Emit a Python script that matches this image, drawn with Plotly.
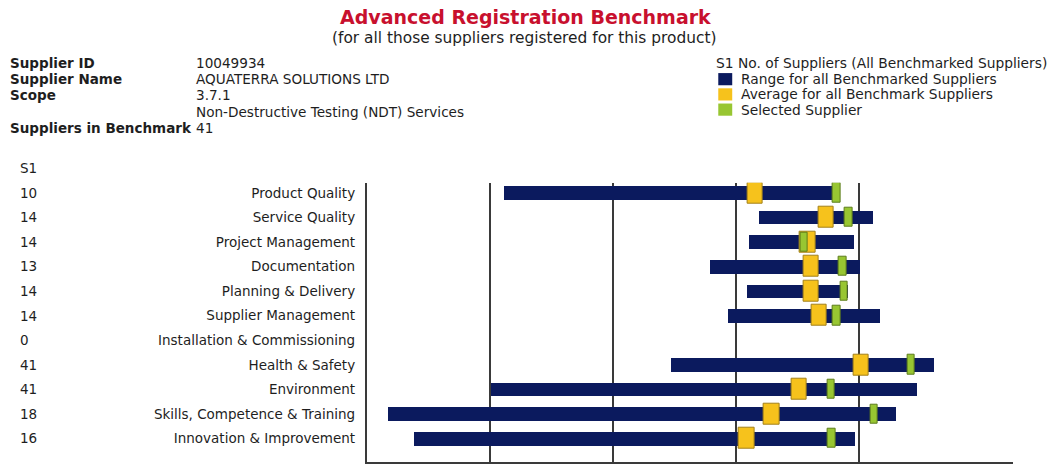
import plotly.graph_objects as go

# ---------------- data ----------------
categories = ["Product Quality", "Service Quality", "Project Management", "Documentation",
              "Planning & Delivery", "Supplier Management", "Installation & Commissioning",
              "Health & Safety", "Environment", "Skills, Competence & Training",
              "Innovation & Improvement"]
supplier_counts = [10, 14, 14, 13, 14, 14, 0, 41, 41, 18, 16]
range_min = [2.23, 6.37, 6.21, 5.57, 6.17, 5.87, None, 4.94, 2.01, 0.34, 0.76]
range_max = [7.64, 8.21, 7.91, 8.01, 7.81, 8.33, None, 9.21, 8.93, 8.59, 7.92]
average = [6.31, 7.46, 7.16, 7.22, 7.22, 7.35, None, 8.03, 7.02, 6.58, 6.17]
selected = [7.63, 7.83, 7.11, 7.73, 7.75, 7.63, None, 8.84, 7.54, 8.24, 7.55]
x_ticks = [0, 2, 4, 6, 8]

title_text = "Advanced Registration Benchmark"
subtitle_text = "(for all those suppliers registered for this product)"
header_labels = ["Supplier ID", "Supplier Name", "Scope", "", "Suppliers in Benchmark"]
header_values = ["10049934", "AQUATERRA SOLUTIONS LTD", "3.7.1",
                 "Non-Destructive Testing (NDT) Services", "41"]
legend_title = "S1 No. of Suppliers (All Benchmarked Suppliers)"
legend_labels = ["Range for all Benchmarked Suppliers",
                 "Average for all Benchmark Suppliers",
                 "Selected Supplier"]
count_header = "S1"

# ---------------- style ----------------
W = 1052
REF_H = 466          # layout positions below are given in picture pixels
H = 478              # figure height (the page is shown squeezed to 466 rows)
FONT = "DejaVu Sans"
NAVY = "#0b1a5e"
YELLOW = "#f6c21c"
YELLOW_EDGE = "#a3801a"
GREEN = "#98c632"
GREEN_EDGE = "#5d7d1c"
LINE = "#3a3a3a"
TEXT = "#1e1e1e"
AVG_W = 0.25   # x units
SEL_W = 0.12


def px_x(p):
    return p / W


def px_y(p):
    return 1 - p / REF_H


def half(vals, w):
    return [None if v is None else v - w / 2 for v in vals]


def spans(lo, hi):
    return [None if a is None else b - a for a, b in zip(lo, hi)]


fig = go.Figure()

fig.add_trace(go.Bar(
    y=categories, x=spans(range_min, range_max), base=range_min, orientation="h",
    width=0.55, marker=dict(color=NAVY, line=dict(width=0)),
    name=legend_labels[0], showlegend=False))

fig.add_trace(go.Bar(
    y=categories, x=[None if v is None else AVG_W for v in average],
    base=half(average, AVG_W), orientation="h", width=0.85,
    marker=dict(color=YELLOW, line=dict(color=YELLOW_EDGE, width=1)),
    name=legend_labels[1], showlegend=False))

fig.add_trace(go.Bar(
    y=categories, x=[None if v is None else SEL_W for v in selected],
    base=half(selected, SEL_W), orientation="h", width=0.79,
    marker=dict(color=GREEN, line=dict(color=GREEN_EDGE, width=1)),
    name=legend_labels[2], showlegend=False))

annotations = []
# title
annotations.append(dict(text=f"<b>{title_text}</b>", x=px_x(523), y=px_y(16.5), xref="paper", yref="paper",
                        xanchor="center", yanchor="middle", showarrow=False,
                        font=dict(family=FONT, size=19, color="#c8102e")))
annotations.append(dict(text=subtitle_text, x=px_x(522), y=px_y(37.5), xref="paper", yref="paper",
                        xanchor="center", yanchor="middle", showarrow=False,
                        font=dict(family=FONT, size=15.4, color=TEXT)))
# header info
row_y = [62, 78, 94, 110, 126]
for lab, val, yy in zip(header_labels, header_values, row_y):
    if lab:
        annotations.append(dict(text=f"<b>{lab}</b>", x=px_x(4), y=px_y(yy), xref="paper", yref="paper",
                                xanchor="left", yanchor="middle", showarrow=False,
                                font=dict(family=FONT, size=13.5, color=TEXT)))
    annotations.append(dict(text=val, x=px_x(191), y=px_y(yy), xref="paper", yref="paper",
                            xanchor="left", yanchor="middle", showarrow=False,
                            font=dict(family=FONT, size=13.6, color=TEXT)))
# legend
annotations.append(dict(text=legend_title, x=px_x(713), y=px_y(62), xref="paper", yref="paper",
                        xanchor="left", yanchor="middle", showarrow=False,
                        font=dict(family=FONT, size=13.8, color=TEXT)))
leg_y = [78, 93, 108]
leg_cols = [NAVY, YELLOW, GREEN]
shapes = []
for lab, yy, col in zip(legend_labels, leg_y, leg_cols):
    annotations.append(dict(text=lab, x=px_x(738), y=px_y(yy), xref="paper", yref="paper",
                            xanchor="left", yanchor="middle", showarrow=False,
                            font=dict(family=FONT, size=13.8, color=TEXT)))
    shapes.append(dict(type="rect", xref="paper", yref="paper",
                       x0=px_x(717), x1=px_x(731), y0=px_y(yy + 6), y1=px_y(yy - 6),
                       fillcolor=col, line=dict(width=0)))
# count column
annotations.append(dict(text=count_header, x=px_x(14), y=px_y(166), xref="paper", yref="paper",
                        xanchor="left", yanchor="middle", showarrow=False,
                        font=dict(family=FONT, size=13.5, color=TEXT)))
for cat, n in zip(categories, supplier_counts):
    annotations.append(dict(text=str(n), x=px_x(14), y=cat, xref="paper", yref="y",
                            xanchor="left", yanchor="middle", showarrow=False,
                            font=dict(family=FONT, size=13.5, color=TEXT)))

fig.update_layout(
    width=W, height=H, margin=dict(l=0, r=0, t=0, b=0),
    paper_bgcolor="white", plot_bgcolor="white",
    barmode="overlay", bargap=0, showlegend=False,
    annotations=annotations, shapes=shapes,
    xaxis=dict(domain=[px_x(364), px_x(1013)], range=[0, 10.5], tickvals=x_ticks,
               showgrid=True, gridcolor=LINE, gridwidth=1.5, zeroline=False,
               showline=True, linecolor=LINE, linewidth=1.5, ticks="",
               ticklabelstandoff=-4,
               tickfont=dict(family=FONT, size=13, color=TEXT)),
    yaxis=dict(domain=[px_y(455), px_y(180)], type="category", categoryarray=categories,
               categoryorder="array", range=[10.95, -0.41], showgrid=False, zeroline=False,
               showline=True, linecolor=LINE, linewidth=1.5, ticks="", ticklabelstandoff=7,
               tickfont=dict(family=FONT, size=13.5, color=TEXT)),
)

page_css = ("var s='margin:0;padding:0;overflow:hidden;';"
            "document.documentElement.style.cssText=s;document.body.style.cssText=s;")
fig.write_html("out.html", config={"displayModeBar": False, "responsive": False},
               post_script=page_css)
